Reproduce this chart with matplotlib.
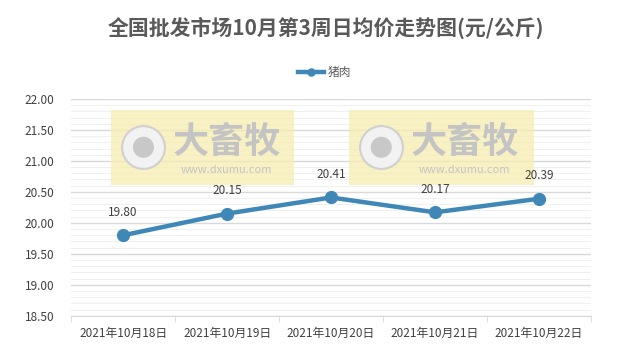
import matplotlib.pyplot as plt
from matplotlib.patches import Rectangle
from matplotlib.ticker import MultipleLocator

plt.rcParams['font.family'] = ['Noto Sans CJK SC', 'DejaVu Sans']

# === data ===
dates = ["2021年10月18日", "2021年10月19日", "2021年10月20日", "2021年10月21日", "2021年10月22日"]
pork = [19.80, 20.15, 20.41, 20.17, 20.39]
series_name = "猪肉"
title = "全国批发市场10月第3周日均价走势图(元/公斤)"

fig = plt.figure(figsize=(6.3, 3.61), dpi=100)
ax = fig.add_axes([0.113, 0.125, 0.825, 0.601])

x = list(range(len(dates)))
line_color = "#3F87B7"
ax.plot(x, pork, color=line_color, lw=3.2, marker="o", ms=8.5, label=series_name, zorder=5)
for xi, v in zip(x, pork):
    ax.annotate(f"{v:.2f}", (xi, v), xytext=(0, 12), textcoords="offset points",
                ha="center", va="bottom", fontsize=8.5, color="#404040", zorder=6)

ax.set_xlim(-0.5, len(dates) - 0.5)
ax.set_ylim(18.5, 22.0)
ax.yaxis.set_major_locator(MultipleLocator(0.5))
ax.yaxis.set_minor_locator(MultipleLocator(0.1))
ax.yaxis.set_major_formatter(plt.FuncFormatter(lambda v, p: f"{v:.2f}"))
ax.grid(axis="y", which="major", color="#D9D9D9", lw=1)
ax.grid(axis="y", which="minor", color="#F0F0F0", lw=0.8)
ax.set_axisbelow(True)

ax.set_xticks(x)
ax.set_xticklabels(dates)
ax.set_xticks([i - 0.5 for i in range(len(dates) + 1)], minor=True)
ax.tick_params(axis="x", which="major", length=0, pad=8, labelsize=8.5, labelcolor="#404040")
ax.tick_params(axis="x", which="minor", length=4, color="#D9D9D9", direction="out")
ax.tick_params(axis="y", which="both", length=0, pad=12, labelsize=8.5, labelcolor="#404040")
for s in ["top", "right", "left"]:
    ax.spines[s].set_visible(False)
ax.spines["bottom"].set_color("#D9D9D9")

# watermark boxes
for x0, x1 in [(-0.115, 1.644), (2.173, 3.952)]:
    ax.add_patch(Rectangle((x0, 20.61), x1 - x0, 1.21, facecolor="#F5EDB0", alpha=0.75,
                           edgecolor="none", zorder=1))
    cx = x0 + 0.31
    ax.scatter([cx], [21.22], s=950, facecolor="#F2F2F2", edgecolor="#D0D0D0", lw=1.5, zorder=2)
    ax.scatter([cx], [21.22], s=230, facecolor="#C8C8C8", edgecolor="none", zorder=3)
    ax.text(x0 + 1.11, 21.3, "大畜牧", fontsize=26, fontweight="bold", color="#C4C4C4",
            ha="center", va="center", zorder=3)
    ax.text(x0 + 1.11, 20.86, "www.dxumu.com", fontsize=8, color="#C4C4C4",
            ha="center", va="center", zorder=3)

fig.suptitle(title, x=0.518, y=0.955, fontsize=15, fontweight="bold", color="#595959")
fig.legend(loc="center", bbox_to_anchor=(0.515, 0.8), frameon=False, fontsize=8.5,
           labelcolor="#595959", handlelength=2.2, handletextpad=0.3, markerscale=0.6)

fig.savefig("out.png", dpi=100, facecolor="white")
